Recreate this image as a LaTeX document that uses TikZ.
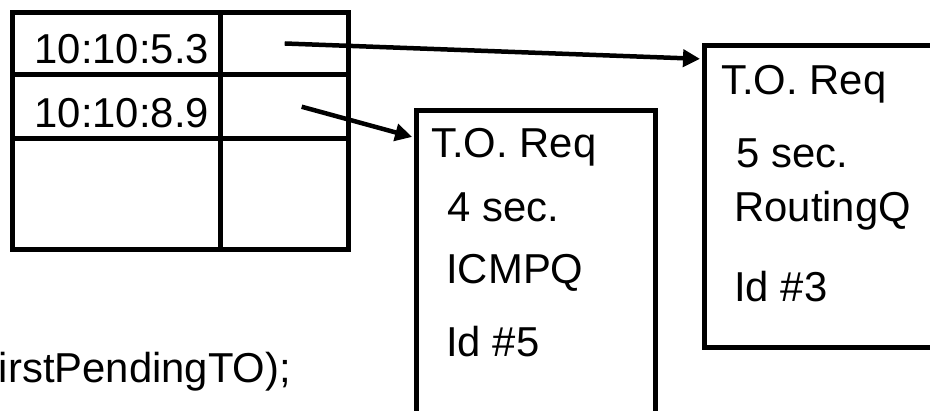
\documentclass[tikz,border=0pt]{standalone}
\usepackage{fontspec}
\setmainfont{Liberation Sans}
\usetikzlibrary{arrows.meta, positioning}

\begin{document}
\begin{tikzpicture}[
    x=0.02cm, y=-0.02cm,
    font=\fontsize{23.8pt}{28pt}\selectfont,
    cell/.style={draw, line width=0.1cm, inner sep=0pt, outer sep=0pt, text height=0.98cm, text depth=0.16cm},
    time/.style={cell, text width=3.7cm, align=right},
    reqbox/.style={draw, line width=0.1cm, inner sep=0pt, outer sep=0pt},
    entry/.style={anchor=base west, inner sep=0pt},
    arrow/.style={-{Triangle[length=0.34cm, width=0.34cm]}, line width=0.09cm, shorten >=0.08cm}
]
    \useasboundingbox (0,0) rectangle (930,411);
    \clip (0,0) rectangle (930,411);

    % Timer table
    \node[time, minimum width=4.16cm, minimum height=1.24cm, anchor=north west] (t11) at (12.5,12.5) {10:10:5.3};
    \node[cell, minimum width=2.57cm, minimum height=1.24cm, right=0pt of t11] (t12) {};
    \node[time, minimum width=4.16cm, minimum height=1.29cm, below=0pt of t11] (t21) {10:10:8.9};
    \node[cell, minimum width=2.57cm, minimum height=1.29cm, right=0pt of t21] (t22) {};
    \node[cell, minimum width=4.16cm, minimum height=2.22cm, below=0pt of t21] (t31) {};
    \node[cell, minimum width=2.57cm, minimum height=2.22cm, right=0pt of t31] (t32) {};

    % Timeout requests
    \node[reqbox, minimum width=4.8cm, minimum height=6.8cm, anchor=north west] (rq5) at (416,111) {};
    \node[reqbox, minimum width=6cm, minimum height=6.04cm, anchor=north west] (rq3) at (704,46) {};

    \node[entry] (rq5a) at (431,158) {T.O. Req};
    \node[entry] (rq5b) at (447,222) {4 sec.};
    \node[entry] (rq5c) at (446,284) {ICMPQ};
    \node[entry] (rq5d) at (446,357) {Id \#5};

    \node[entry] (rq3a) at (721,95) {T.O. Req};
    \node[entry] (rq3b) at (736,168) {5 sec.};
    \node[entry] (rq3c) at (734,222) {RoutingQ};
    \node[entry] (rq3d) at (734,302) {Id \#3};

    % Pointers
    \draw[arrow] (t12.center) -- ([yshift=-0.26cm]rq3.north west);
    \draw[arrow] ([xshift=0.34cm]t22.center) -- ([yshift=-0.54cm]rq5.north west);

    \node[entry] (call) at (-27,383) {FirstPendingTO);};

\end{tikzpicture}
\end{document}
